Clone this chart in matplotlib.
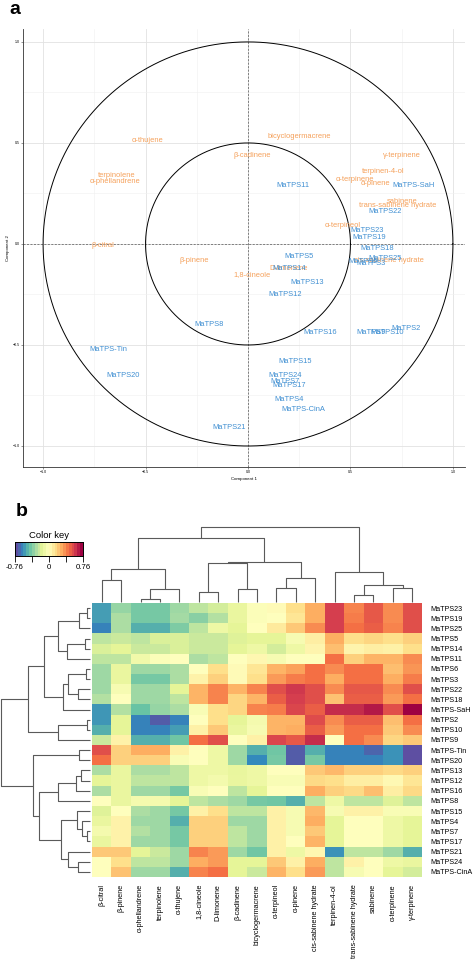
import numpy as np
import matplotlib
matplotlib.use("Agg")
import matplotlib.pyplot as plt

plt.rcParams['font.family'] = ['Liberation Sans', 'DejaVu Sans']

# ---- panel a: PCA loadings / scores ----
var_names = ["α-thujene", "bicyclogermacrene", "β-cadinene", "γ-terpinene", "terpinolene",
             "α-phellandrene", "terpinen-4-ol", "α-terpinene", "α-pinene", "sabinene",
             "trans-sabinene hydrate", "α-terpineol", "β-citral", "cis-sabinene hydrate",
             "β-pinene", "D-limonene", "1,8-cineole"]
var_x = [-0.49, 0.25, 0.02, 0.75, -0.64, -0.65, 0.66, 0.52, 0.62, 0.75, 0.73, 0.46, -0.71,
         0.69, -0.26, 0.20, 0.02]
var_y = [0.51, 0.53, 0.44, 0.44, 0.34, 0.31, 0.36, 0.32, 0.30, 0.21, 0.19, 0.09, -0.01,
         -0.08, -0.08, -0.12, -0.15]

tps_names = ["MaTPS11", "MaTPS-SaH", "MaTPS22", "MaTPS23", "MaTPS19", "MaTPS18", "MaTPS25",
             "MaTPS6", "MaTPS3", "MaTPS5", "MaTPS14", "MaTPS13", "MaTPS12", "MaTPS8",
             "MaTPS16", "MaTPS9", "MaTPS10", "MaTPS2", "MaTPS-Tin", "MaTPS20", "MaTPS15",
             "MaTPS24", "MaTPS7", "MaTPS17", "MaTPS4", "MaTPS-CinA", "MaTPS21"]
tps_x = [0.22, 0.81, 0.67, 0.58, 0.59, 0.63, 0.67, 0.56, 0.60, 0.25, 0.20, 0.29, 0.18, -0.19,
         0.35, 0.60, 0.68, 0.77, -0.68, -0.61, 0.23, 0.18, 0.18, 0.20, 0.20, 0.27, -0.09]
tps_y = [0.29, 0.29, 0.16, 0.065, 0.03, -0.02, -0.07, -0.085, -0.095, -0.06, -0.12, -0.19,
         -0.25, -0.40, -0.44, -0.44, -0.44, -0.42, -0.52, -0.65, -0.58, -0.65, -0.68, -0.70,
         -0.77, -0.82, -0.91]

circle_radii = [1.0, 0.5]

# ---- panel b: correlation heatmap ----
row_labels = ["MaTPS23", "MaTPS19", "MaTPS25", "MaTPS5", "MaTPS14", "MaTPS11", "MaTPS6",
              "MaTPS3", "MaTPS22", "MaTPS18", "MaTPS-SaH", "MaTPS2", "MaTPS10", "MaTPS9",
              "MaTPS-Tin", "MaTPS20", "MaTPS13", "MaTPS12", "MaTPS16", "MaTPS8", "MaTPS15",
              "MaTPS4", "MaTPS7", "MaTPS17", "MaTPS21", "MaTPS24", "MaTPS-CinA"]
col_labels = ["β-citral", "β-pinene", "α-phellandrene", "terpinolene", "α-thujene",
              "1,8-cineole", "D-limonene", "β-cadinene", "bicyclogermacrene", "α-terpineol",
              "α-pinene", "cis-sabinene hydrate", "terpinen-4-ol", "trans-sabinene hydrate",
              "sabinene", "α-terpinene", "γ-terpinene"]
corr = [
    [-0.55, -0.35, -0.42, -0.42, -0.33, -0.25, -0.20, -0.12, -0.02, 0.02, 0.15, 0.30, 0.60, 0.40, 0.52, 0.38, 0.55],
    [-0.55, -0.30, -0.42, -0.42, -0.32, -0.38, -0.28, -0.12, -0.02, 0.00, 0.12, 0.30, 0.60, 0.42, 0.52, 0.38, 0.55],
    [-0.62, -0.30, -0.50, -0.50, -0.40, -0.25, -0.10, -0.15, 0.00, 0.10, 0.22, 0.38, 0.60, 0.45, 0.50, 0.40, 0.55],
    [-0.25, -0.22, -0.25, -0.18, -0.18, -0.22, -0.22, -0.17, -0.15, -0.15, -0.05, 0.08, 0.30, 0.15, 0.18, 0.15, 0.20],
    [-0.18, -0.15, -0.22, -0.22, -0.18, -0.22, -0.22, -0.15, -0.10, -0.20, -0.10, 0.05, 0.25, 0.05, 0.08, 0.07, 0.15],
    [-0.25, -0.25, -0.08, -0.02, 0.00, -0.30, -0.25, 0.00, 0.04, -0.05, 0.00, 0.00, 0.45, 0.20, 0.28, 0.28, 0.38],
    [-0.33, -0.12, -0.33, -0.33, -0.30, 0.00, 0.15, 0.02, 0.12, 0.28, 0.33, 0.45, 0.38, 0.45, 0.45, 0.25, 0.36],
    [-0.33, -0.12, -0.42, -0.42, -0.30, 0.06, 0.20, 0.02, 0.15, 0.35, 0.42, 0.45, 0.30, 0.45, 0.45, 0.30, 0.42],
    [-0.33, -0.05, -0.33, -0.33, -0.15, 0.28, 0.40, 0.28, 0.40, 0.55, 0.62, 0.55, 0.38, 0.52, 0.52, 0.38, 0.55],
    [-0.28, 0.00, -0.33, -0.33, -0.25, 0.28, 0.40, 0.18, 0.28, 0.50, 0.60, 0.55, 0.24, 0.50, 0.50, 0.35, 0.45],
    [-0.57, -0.28, -0.45, -0.35, -0.30, -0.04, 0.15, 0.18, 0.40, 0.42, 0.58, 0.50, 0.65, 0.65, 0.70, 0.55, 0.76],
    [-0.57, -0.15, -0.62, -0.72, -0.62, 0.00, 0.15, -0.15, -0.06, 0.28, 0.28, 0.56, 0.38, 0.50, 0.50, 0.25, 0.45],
    [-0.50, -0.15, -0.62, -0.62, -0.55, 0.07, 0.22, -0.12, -0.05, 0.28, 0.30, 0.50, 0.35, 0.45, 0.45, 0.22, 0.38],
    [-0.22, 0.06, -0.50, -0.50, -0.43, 0.45, 0.55, 0.00, 0.07, 0.58, 0.52, 0.65, 0.00, 0.45, 0.38, 0.18, 0.22],
    [0.55, 0.20, 0.30, 0.30, 0.07, 0.00, -0.10, -0.33, -0.50, -0.43, -0.72, -0.50, -0.62, -0.62, -0.70, -0.58, -0.76],
    [0.45, 0.20, 0.20, 0.20, -0.04, 0.00, -0.10, -0.33, -0.60, -0.42, -0.72, -0.42, -0.62, -0.62, -0.62, -0.58, -0.76],
    [-0.30, -0.12, -0.30, -0.30, -0.25, -0.10, -0.10, -0.13, -0.10, 0.00, 0.00, 0.22, 0.27, 0.20, 0.20, 0.17, 0.20],
    [-0.15, -0.12, -0.25, -0.25, -0.25, -0.10, -0.07, -0.12, -0.10, -0.04, -0.04, 0.17, 0.15, 0.08, 0.08, 0.03, 0.12],
    [-0.30, -0.12, -0.33, -0.33, -0.42, -0.04, 0.00, -0.25, -0.15, 0.00, 0.00, 0.30, 0.20, 0.17, 0.25, 0.08, 0.17],
    [0.00, -0.12, -0.06, -0.06, -0.15, -0.25, -0.30, -0.33, -0.42, -0.43, -0.50, -0.25, -0.10, -0.25, -0.25, -0.17, -0.25],
    [-0.17, 0.00, -0.30, -0.33, -0.42, 0.07, 0.15, -0.25, -0.25, 0.07, -0.05, 0.27, -0.05, 0.07, 0.07, -0.04, -0.04],
    [-0.12, 0.06, -0.33, -0.33, -0.50, 0.20, 0.20, -0.33, -0.33, 0.07, -0.05, 0.30, -0.15, 0.00, 0.00, -0.10, -0.15],
    [-0.06, 0.06, -0.28, -0.33, -0.42, 0.20, 0.20, -0.25, -0.33, 0.07, -0.05, 0.22, -0.15, 0.00, 0.00, -0.10, -0.15],
    [-0.12, 0.06, -0.33, -0.33, -0.42, 0.20, 0.20, -0.25, -0.33, 0.07, 0.00, 0.28, -0.15, 0.00, 0.00, -0.10, -0.15],
    [0.22, 0.22, -0.15, -0.22, -0.33, 0.40, 0.35, -0.33, -0.43, 0.07, -0.10, 0.04, -0.58, -0.25, -0.25, -0.33, -0.50],
    [0.00, 0.15, -0.25, -0.25, -0.33, 0.30, 0.35, -0.15, -0.15, 0.22, 0.07, 0.30, -0.25, 0.07, 0.00, -0.10, -0.12],
    [0.00, 0.24, -0.33, -0.33, -0.50, 0.40, 0.45, -0.15, -0.22, 0.28, 0.15, 0.35, -0.25, -0.05, 0.00, -0.15, -0.20],
]
vlim = 0.76

# dendrogram merges: (child a, child b, height); leaves are 0..n-1, new clusters n, n+1, ...
col_merges = [(0, 1, 67), (2, 3, 9), (18, 4, 40), (17, 19, 100), (5, 6, 31), (7, 8, 40),
              (9, 10, 43), (23, 11, 72), (21, 22, 117), (25, 24, 120), (20, 26, 194),
              (13, 14, 21), (15, 16, 43), (28, 29, 53), (12, 30, 92), (27, 31, 227)]
row_merges = [(0, 1, 8), (27, 2, 32), (3, 4, 15), (29, 5, 70), (28, 30, 95), (6, 7, 12),
              (8, 9, 35), (32, 33, 65), (34, 10, 80), (31, 35, 140), (11, 12, 8), (37, 13, 97),
              (36, 38, 188), (14, 15, 32), (16, 17, 27), (41, 18, 42), (42, 19, 95), (22, 23, 8),
              (21, 44, 22), (20, 45, 38), (25, 26, 34), (24, 47, 65), (46, 48, 88),
              (43, 49, 155), (40, 50, 173), (39, 51, 270)]


def draw_dendro(ax, merges, n, top=True):
    pos = {i: float(i) for i in range(n)}
    hgt = {i: 0.0 for i in range(n)}
    for k, (a, b, h) in enumerate(merges):
        xs = [pos[a], pos[a], pos[b], pos[b]]
        ys = [hgt[a], h, h, hgt[b]]
        if top:
            ax.plot(xs, ys, color='#5a5a5a', lw=0.8, solid_capstyle='butt')
        else:
            ax.plot(ys, xs, color='#5a5a5a', lw=0.8, solid_capstyle='butt')
        pos[n + k] = (pos[a] + pos[b]) / 2
        hgt[n + k] = h


W, H = 473, 960
fig = plt.figure(figsize=(W / 100, H / 100), dpi=100)


def box(x0, y0, x1, y1):
    # pixel box (top-left origin) -> figure fraction
    return [x0 / W, 1 - y1 / H, (x1 - x0) / W, (y1 - y0) / H]


# ---------------- panel a ----------------
ax = fig.add_axes(box(23, 29, 465, 467))
ax.set_xlim(-1.098, 1.059)
ax.set_ylim(-1.104, 1.064)
ticks = [-1.0, -0.5, 0.0, 0.5, 1.0]
ax.set_xticks(ticks)
ax.set_yticks(ticks)
ax.set_xticks([-0.75, -0.25, 0.25, 0.75], minor=True)
ax.set_yticks([-0.75, -0.25, 0.25, 0.75], minor=True)
ax.grid(which='major', color='#e2e2e2', lw=0.6)
ax.grid(which='minor', color='#f0f0f0', lw=0.4)
ax.tick_params(which='both', length=1.2, width=0.4, labelsize=2.6, pad=1, color='#444')
ax.tick_params(which='minor', length=0)
for s in ['top', 'right']:
    ax.spines[s].set_visible(False)
for s in ['left', 'bottom']:
    ax.spines[s].set_linewidth(0.6)
    ax.spines[s].set_color('#333333')
ax.axhline(0, color='#555555', lw=0.5, ls=(0, (3, 2)))
ax.axvline(0, color='#555555', lw=0.5, ls=(0, (3, 2)))
t = np.linspace(0, 2 * np.pi, 400)
for r in circle_radii:
    ax.plot(r * np.cos(t), r * np.sin(t), color='black', lw=0.7)
ax.set_xlabel("Component 1", fontsize=3.2, labelpad=2)
ax.set_ylabel("Component 2", fontsize=3.2, labelpad=2)
for name, x, y in zip(var_names, var_x, var_y):
    ax.text(x, y, name, color='#F5A05A', fontsize=5.4, ha='center', va='center')
for name, x, y in zip(tps_names, tps_x, tps_y):
    ax.text(x, y, name, color='#3F8FD2', fontsize=5.4, ha='center', va='center')

fig.text(15 / W, 1 - 9 / H, "a", fontsize=14, fontweight='bold', ha='center', va='center')
fig.text(22 / W, 1 - 512 / H, "b", fontsize=14, fontweight='bold', ha='center', va='center')

# ---------------- panel b ----------------
nrow, ncol = len(row_labels), len(col_labels)
axh = fig.add_axes(box(92, 603, 422, 877))
axh.imshow(np.array(corr), cmap='Spectral_r', vmin=-vlim, vmax=vlim, aspect='auto',
           interpolation='nearest')
axh.set_xticks(range(ncol))
axh.set_xticklabels(col_labels, rotation=90, fontsize=5.2)
axh.set_yticks(range(nrow))
axh.set_yticklabels(row_labels, fontsize=5.2)
axh.yaxis.tick_right()
axh.tick_params(length=0, pad=6)
axh.tick_params(axis='x', pad=5)
for s in axh.spines.values():
    s.set_visible(False)

axc = fig.add_axes(box(92, 526, 422, 603))
draw_dendro(axc, col_merges, ncol, top=True)
axc.set_xlim(-0.5, ncol - 0.5)
axc.set_ylim(-2, 229)
axc.axis('off')

axr = fig.add_axes(box(0, 603, 92, 877))
draw_dendro(axr, row_merges, nrow, top=False)
axr.set_ylim(nrow - 0.5, -0.5)
axr.set_xlim(272, -7)
axr.axis('off')

# colour key
axk = fig.add_axes(box(15, 542, 83, 556))
key = np.linspace(-vlim, vlim, 24)
axk.imshow(key[None, :], cmap='Spectral_r', vmin=-vlim, vmax=vlim, aspect='auto',
           extent=(-vlim, vlim, 0, 1), interpolation='nearest')
axk.set_yticks([])
axk.set_xticks([-vlim, -vlim / 2, 0, vlim / 2, vlim])
axk.set_xticklabels(["-0.76", "", "0", "", "0.76"], fontsize=5.7)
axk.tick_params(length=4, width=0.6, pad=1.5)
for s in axk.spines.values():
    s.set_linewidth(0.7)
axk.set_title("Color key", fontsize=6.8, pad=3)

fig.savefig("out.png", dpi=100)
